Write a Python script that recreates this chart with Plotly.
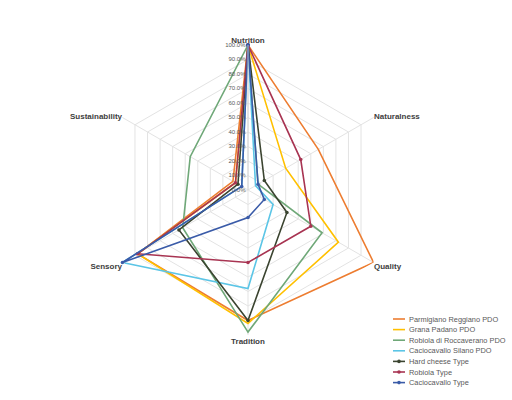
import plotly.graph_objects as go

categories = ["Nutrition", "Naturalness", "Quality", "Tradition", "Sensory", "Sustainability"]

series_names = [
    "Parmigiano Reggiano PDO",
    "Grana Padano PDO",
    "Robiola di Roccaverano PDO",
    "Caciocavallo Silano PDO",
    "Hard cheese Type",
    "Robiola Type",
    "Caciocavallo Type",
]

parmigiano = [1.00, 0.56, 1.00, 0.90, 0.88, 0.12]
grana = [1.00, 0.30, 0.72, 0.92, 0.88, 0.10]
robiola_pdo = [1.00, 0.08, 0.59, 0.98, 0.52, 0.46]
caciocavallo_pdo = [1.00, 0.06, 0.20, 0.68, 1.00, 0.05]
hard_type = [1.00, 0.13, 0.31, 0.90, 0.55, 0.08]
robiola_type = [1.00, 0.42, 0.50, 0.50, 0.88, 0.10]
caciocavallo_type = [1.00, 0.08, 0.13, 0.19, 1.00, 0.05]

series_values = [parmigiano, grana, robiola_pdo, caciocavallo_pdo,
                 hard_type, robiola_type, caciocavallo_type]

colors = ["#ED7D31", "#FFC000", "#6FA878", "#5BC5E6", "#3B4430", "#A83452", "#3A5BA8"]
has_markers = [False, False, False, False, True, True, True]

radial_ticks = [i / 10 for i in range(11)]

W, H = 512, 400
CX, CY, R = 248, 190, 145  # pixel centre / radius of the radar

fig = go.Figure()
for name, vals, col, mk in zip(series_names, series_values, colors, has_markers):
    fig.add_trace(go.Scatterpolar(
        r=vals + [vals[0]],
        theta=categories + [categories[0]],
        name=name,
        mode="lines+markers" if mk else "lines",
        line=dict(color=col, width=1.6),
        marker=dict(size=3.5, color=col),
        showlegend=False,
    ))

# compact legend (bottom right)
shapes = []
annotations = []
leg_x0, leg_x1, leg_text_x = 393, 405, 407
leg_y0, leg_dy = 319, 10.6
for i, (name, col, mk) in enumerate(zip(series_names, colors, has_markers)):
    y = leg_y0 + i * leg_dy
    yp = 1 - y / H
    shapes.append(dict(type="line", xref="paper", yref="paper",
                       x0=leg_x0 / W, x1=leg_x1 / W, y0=yp, y1=yp,
                       line=dict(color=col, width=1.6)))
    if mk:
        xm = (leg_x0 + leg_x1) / 2
        rr = 1.8
        shapes.append(dict(type="circle", xref="paper", yref="paper",
                           x0=(xm - rr) / W, x1=(xm + rr) / W,
                           y0=yp - rr / H, y1=yp + rr / H,
                           fillcolor=col, line=dict(color=col, width=0)))
    annotations.append(dict(x=leg_text_x / W, y=yp, xref="paper", yref="paper",
                            text=name, showarrow=False, xanchor="left", yanchor="middle",
                            font=dict(size=7.4, color="#595959")))

fig.update_layout(
    width=W, height=H,
    margin=dict(l=0, r=0, t=0, b=0),
    paper_bgcolor="white",
    plot_bgcolor="white",
    font=dict(family="Liberation Sans, Arial, sans-serif", color="#595959"),
    polar=dict(
        domain=dict(x=[(CX - R) / W, (CX + R) / W],
                    y=[(H - CY - R) / H, (H - CY + R) / H]),
        bgcolor="white",
        gridshape="linear",
        angularaxis=dict(
            rotation=90, direction="clockwise",
            categoryorder="array", categoryarray=categories,
            showline=False,
            gridcolor="#E3E3E3", gridwidth=0.8,
            tickfont=dict(size=8, color="#404040", weight="bold"),
            ticks="",
        ),
        radialaxis=dict(
            range=[0, 1],
            tickvals=radial_ticks,
            tickformat=".1%",
            angle=90,
            side="counterclockwise",
            tickangle=90,
            showline=True, linecolor="#D0D0D0", linewidth=0.8,
            gridcolor="#E3E3E3", gridwidth=0.8,
            tickfont=dict(size=6, color="#595959"),
            ticks="",
        ),
    ),
    shapes=shapes,
    annotations=annotations,
    showlegend=False,
)

fig.write_html("out.html")
